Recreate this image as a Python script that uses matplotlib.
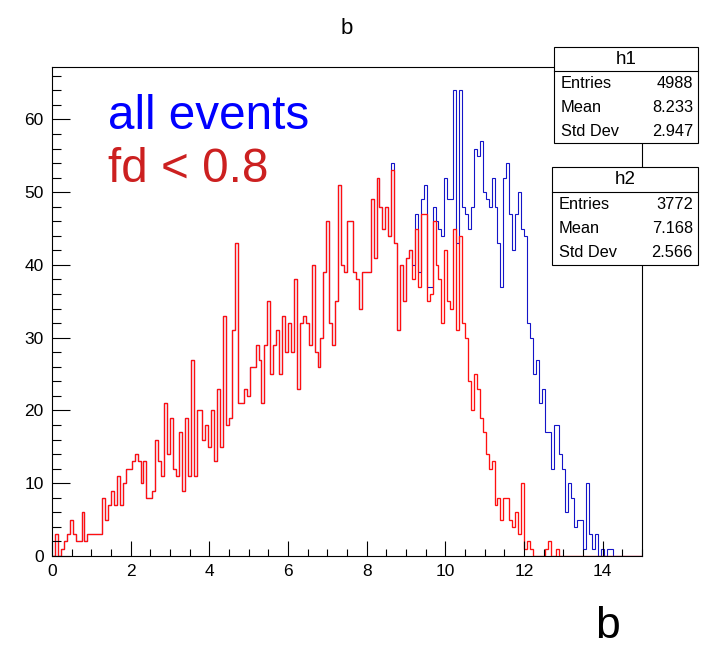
import numpy as np
import matplotlib
matplotlib.use('Agg')
import matplotlib.pyplot as plt
from matplotlib.patches import Rectangle

plt.rcParams['font.family'] = ['Liberation Sans', 'DejaVu Sans']

W, H = 718, 649

# binning of both histograms
nbins = 200
xmin, xmax = 0.0, 15.0

# h2 : fd < 0.8 (red), 200 bins
h2 = [0, 3, 0, 1, 2, 3, 5, 3, 2, 2, 6, 2, 3, 3, 3, 3, 3, 8, 5, 7,
      9, 7, 11, 7, 10, 12, 12, 13, 14, 13, 10, 13, 8, 8, 9, 16, 13, 11, 21, 14,
      19, 12, 11, 17, 9, 19, 11, 27, 11, 20, 20, 16, 18, 15, 20, 13, 23, 15, 33, 18,
      19, 31, 43, 21, 21, 23, 22, 26, 26, 29, 27, 21, 29, 35, 25, 29, 31, 25, 33, 28,
      32, 28, 38, 23, 32, 33, 32, 29, 40, 28, 26, 30, 39, 46, 32, 29, 35, 51, 40, 39,
      46, 46, 39, 38, 34, 39, 39, 39, 49, 41, 52, 48, 45, 48, 44, 53, 43, 31, 40, 35,
      41, 42, 38, 45, 37, 47, 47, 35, 36, 46, 40, 38, 32, 42, 35, 34, 45, 31, 44, 32,
      30, 24, 20, 25, 23, 19, 17, 14, 12, 13, 7, 8, 5, 8, 8, 5, 4, 6, 3, 10,
      1, 2, 1, 0, 0, 0, 0, 1, 2, 0, 0, 1, 0, 0, 0, 0, 0, 0, 0, 0,
      0, 0, 0, 0, 0, 0, 0, 0, 0, 0, 0, 0, 0, 0, 0, 0, 0, 0, 0, 0]

# h1 : all events (blue). below bin 115 it sits under h2, from bin 115 on:
h1_tail = [54, 43, 31, 40, 35, 41, 42, 40, 47, 39, 49, 51, 37, 37, 48, 46, 45, 44, 52, 49,
           49, 64, 43, 64, 48, 47, 45, 48, 56, 55, 57, 50, 49, 48, 52, 48, 43, 37, 52, 54,
           47, 42, 47, 50, 45, 44, 32, 30, 25, 27, 21, 23, 17, 17, 12, 18, 18, 14, 12, 6,
           10, 8, 4, 5, 5, 1, 10, 3, 1, 3, 0, 1, 0, 1, 1]
h1 = h2[:115] + h1_tail + [0] * (nbins - 115 - len(h1_tail))

stats_names = ['Entries', 'Mean', 'Std Dev']
stats_h1 = ['4988', '8.233', '2.947']
stats_h2 = ['3772', '7.168', '2.566']

edges = np.linspace(xmin, xmax, nbins + 1)

fig = plt.figure(figsize=(W / 100, H / 100), dpi=100)
ax = fig.add_axes([52 / W, 1 - 556 / H, 590 / W, 489 / H])

ax.stairs(h1, edges, color='#1414c8', lw=0.8, baseline=0)
ax.stairs(h2, edges, color='#ff1010', lw=0.95, baseline=0)

ax.set_xlim(xmin, xmax)
ax.set_ylim(0, 67.2)
ax.set_xticks(np.arange(0, 15, 2))
ax.set_xticks(np.arange(0, 15.01, 0.5), minor=True)
ax.set_yticks(np.arange(0, 61, 10))
ax.set_yticks(np.arange(0, 67, 2), minor=True)
ax.tick_params(axis='x', which='major', direction='in', length=10.5, width=0.8,
               labelsize=12.5, pad=6)
ax.tick_params(axis='x', which='minor', direction='in', length=5.3, width=0.8)
ax.tick_params(axis='y', which='major', direction='in', length=13, width=0.8,
               labelsize=12.5, pad=6)
ax.tick_params(axis='y', which='minor', direction='in', length=6.5, width=0.8)
for s in ax.spines.values():
    s.set_linewidth(0.8)

fig.text(347 / W, 1 - 28 / H, 'b', ha='center', va='center', fontsize=16)
fig.text(608 / W, 1 - 626 / H, 'b', ha='center', va='center', fontsize=32)

fig.text(108 / W, 1 - 129 / H, 'all events', color='#0000ff', fontsize=34.3,
         va='baseline', ha='left')
fig.text(108 / W, 1 - 182 / H, 'fd < 0.8', color='#cc2020', fontsize=34.3,
         va='baseline', ha='left')


def stat_box(left, top, right, bottom, sep, name, rows, values):
    fig.patches.append(Rectangle((left / W, 1 - bottom / H), (right - left) / W,
                                 (bottom - top) / H, transform=fig.transFigure,
                                 facecolor='white', edgecolor='black', lw=0.8,
                                 zorder=5))
    fig.lines.append(plt.Line2D([left / W, right / W], [1 - sep / H, 1 - sep / H],
                                transform=fig.transFigure, color='black', lw=0.8,
                                zorder=6))
    fig.text((left + right) / 2 / W, 1 - (top + sep) / 2 / H, name, ha='center',
             va='center', fontsize=13.5, zorder=7)
    row_h = (bottom - sep) / 3
    for k in range(3):
        yc = 1 - (sep + row_h * (k + 0.5)) / H
        fig.text((left + 7) / W, yc, rows[k], ha='left', va='center',
                 fontsize=11.8, zorder=7)
        fig.text((right - 5) / W, yc, values[k], ha='right', va='center',
                 fontsize=11.8, zorder=7)


stat_box(554, 47, 698, 143, 71, 'h1', stats_names, stats_h1)
stat_box(552, 167, 698, 265, 192, 'h2', stats_names, stats_h2)

fig.savefig('out.png', dpi=100)
